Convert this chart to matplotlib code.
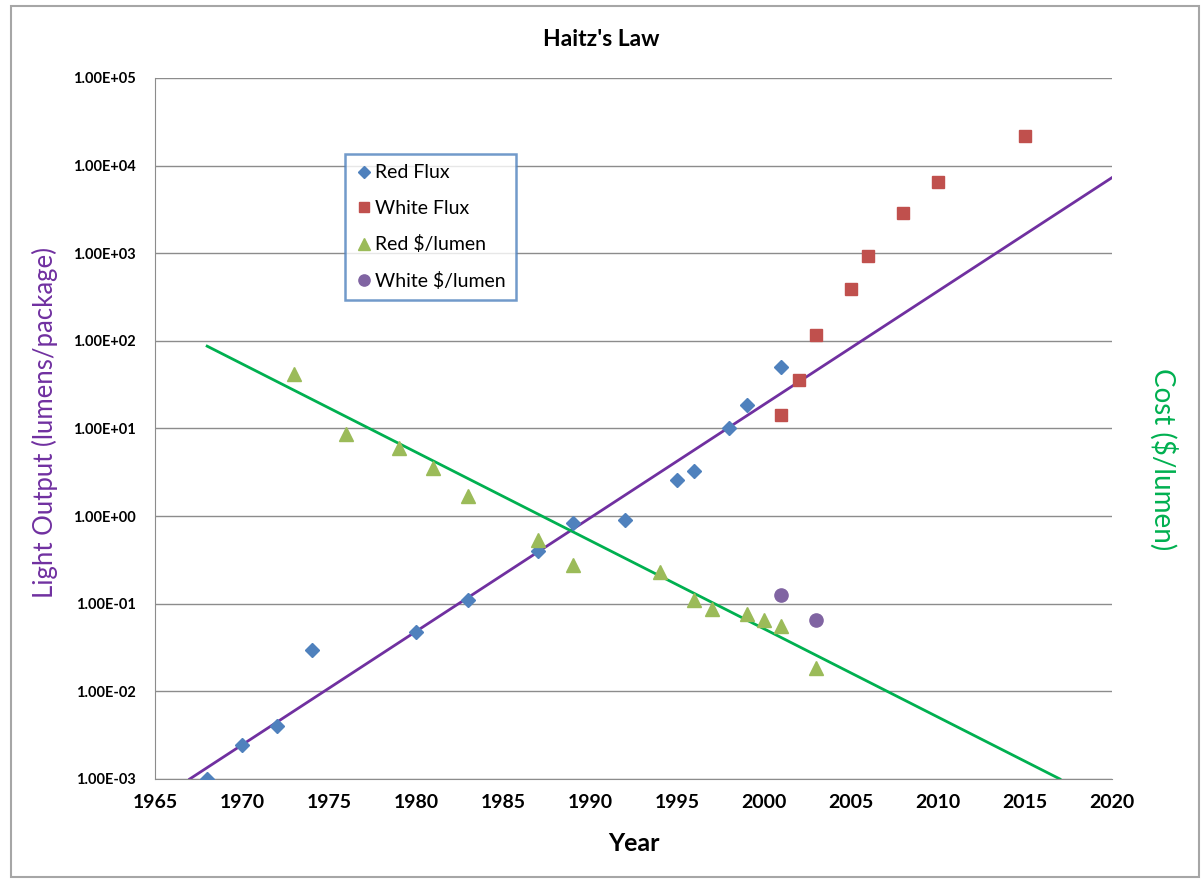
import matplotlib.pyplot as plt
from matplotlib.patches import Rectangle
from matplotlib.ticker import FixedLocator, FuncFormatter

# values
red_flux_years = [1968, 1970, 1972, 1974, 1980, 1983, 1987, 1989, 1992, 1995, 1996, 1998, 1999, 2001]
red_flux = [1.0e-3, 2.45e-3, 4.0e-3, 0.0295, 0.048, 0.11, 0.40, 0.83, 0.9, 2.6, 3.3, 10.2, 18.6, 50]

white_flux_years = [2001, 2002, 2003, 2005, 2006, 2008, 2010, 2015]
white_flux = [14.3, 36, 117, 390, 930, 2900, 6500, 22000]

red_cost_years = [1973, 1976, 1979, 1981, 1983, 1987, 1989, 1994, 1996, 1997, 1999, 2000, 2001, 2003]
red_cost = [42, 8.7, 6.0, 3.5, 1.7, 0.53, 0.28, 0.23, 0.11, 0.087, 0.076, 0.065, 0.056, 0.0186]

white_cost_years = [2001, 2003]
white_cost = [0.125, 0.065]

# trend lines (end points)
flux_trend_years = [1967, 2020]
flux_trend = [1.0e-3, 7300]
cost_trend_years = [1968, 2017]
cost_trend = [87, 1.0e-3]

year_ticks = list(range(1965, 2021, 5))
decade_ticks = [1e-3, 1e-2, 1e-1, 1e0, 1e1, 1e2, 1e3, 1e4, 1e5]

plt.rcParams["font.family"] = ["Lato", "DejaVu Sans"]

fig = plt.figure(figsize=(12.03, 8.8), dpi=100)
ax = fig.add_axes([0.1288, 0.1148, 0.7956, 0.7966])

ax.plot(flux_trend_years, flux_trend, color="#7030A0", lw=2, zorder=2)
ax.plot(cost_trend_years, cost_trend, color="#00B050", lw=2, zorder=2)

ax.plot(red_flux_years, red_flux, "D", color="#4F81BD", ms=7.5, ls="none", label="Red Flux", zorder=3)
ax.plot(white_flux_years, white_flux, "s", color="#C0504D", ms=9, ls="none", label="White Flux", zorder=3)
ax.plot(red_cost_years, red_cost, "^", color="#9BBB59", ms=9.5, ls="none", label="Red $/lumen", zorder=3)
ax.plot(white_cost_years, white_cost, "o", color="#8064A2", ms=9.5, ls="none", label="White $/lumen", zorder=3)

ax.set_yscale("log")
ax.set_xlim(1965, 2020)
ax.set_ylim(1e-3, 1e5)
ax.xaxis.set_major_locator(FixedLocator(year_ticks))
ax.yaxis.set_major_locator(FixedLocator(decade_ticks))
ax.yaxis.set_minor_locator(FixedLocator([]))
ax.yaxis.set_major_formatter(FuncFormatter(lambda v, p: f"{v:.2E}"))
ax.tick_params(axis="y", length=0, pad=14, labelsize=10.5)
ax.tick_params(axis="x", length=0, pad=11, labelsize=14)
for lbl in ax.get_yticklabels() + ax.get_xticklabels():
    lbl.set_fontweight("bold")

ax.grid(axis="y", color="#8c8c8c", lw=1)
ax.set_axisbelow(True)
for side in ["top", "right"]:
    ax.spines[side].set_visible(False)
for side in ["left", "bottom"]:
    ax.spines[side].set_color("#8c8c8c")

ax.set_xlabel("Year", fontsize=18, fontweight="bold", labelpad=15)
fig.text(0.037, 0.52, "Light Output (lumens/package)", rotation=90, fontsize=18.5,
         color="#7030A0", ha="center", va="center")
fig.text(0.967, 0.478, "Cost ($/lumen)", rotation=-90, fontsize=20, color="#00B050",
         ha="center", va="center")
fig.text(0.5, 0.955, "Haitz's Law", fontsize=16.5, fontweight="bold", ha="center", va="center")

leg = ax.legend(loc="upper left", bbox_to_anchor=(0.1985, 0.892), fontsize=14,
                frameon=True, fancybox=False, handletextpad=0.1, handlelength=0.9,
                labelspacing=0.95, borderpad=0.55, borderaxespad=0, markerscale=0.85)
leg.get_frame().set_edgecolor("#4F81BD")
leg.get_frame().set_linewidth(1.8)

fig.patches.append(Rectangle((0.009, 0.003), 0.988, 0.99, transform=fig.transFigure,
                             fill=False, edgecolor="#a6a6a6", lw=1.5))

fig.savefig("out.png", dpi=100)
